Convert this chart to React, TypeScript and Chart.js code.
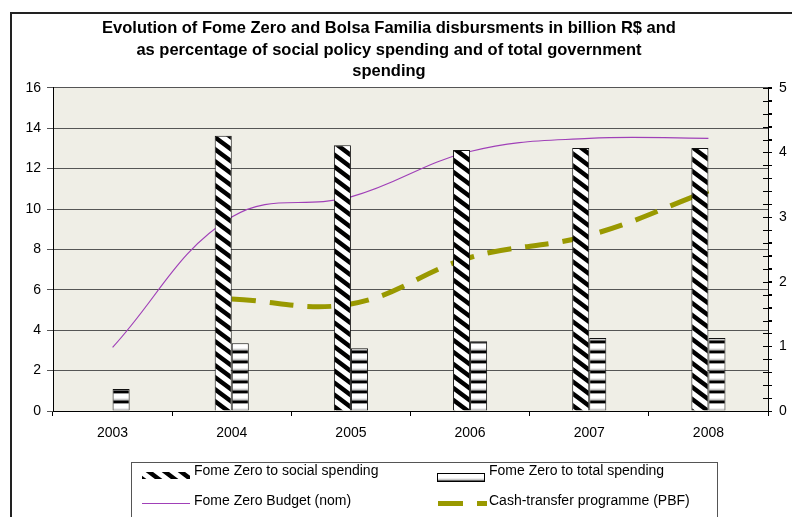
import { useEffect, useRef } from 'react';
import { Chart, registerables } from 'chart.js';

Chart.register(...registerables);

const titleLines = [
  'Evolution of Fome Zero and Bolsa Familia disbursments in billion R$ and',
  'as percentage of social policy spending and of total government',
  'spending',
];
const categories = ['2003', '2004', '2005', '2006', '2007', '2008'];
// % shares (right axis)
const socialShare = [null, 4.26, 4.11, 4.04, 4.07, 4.07];
const totalShare = [0.34, 1.05, 0.97, 1.08, 1.13, 1.13];
// billion R$ (left axis)
const budgetNom = [3.15, 9.6, 10.6, 12.85, 13.5, 13.5];
const pbf = [null, 5.55, 5.3, 7.6, 8.7, 10.9];
const leftTickValues = [0, 2, 4, 6, 8, 10, 12, 14, 16];
const rightTickValues = [0, 1, 2, 3, 4, 5];
const rightMinorPerUnit = 5;

const FONT = '"Liberation Sans", Arial, sans-serif';

function diagPattern(): CanvasPattern | string {
  const W = 16, H = 12;
  const c = document.createElement('canvas');
  c.width = W; c.height = H;
  const g = c.getContext('2d');
  if (!g) return '#888';
  g.fillStyle = '#fff';
  g.fillRect(0, 0, W, H);
  g.strokeStyle = '#000';
  g.lineWidth = 4.5;
  g.beginPath();
  for (let k = -3; k <= 3; k++) {
    g.moveTo(-W, -H + k * H);
    g.lineTo(2 * W, 2 * H + k * H);
  }
  g.stroke();
  return g.createPattern(c, 'repeat') || '#888';
}

function horizPattern(): CanvasPattern | string {
  const c = document.createElement('canvas');
  c.width = 4; c.height = 10;
  const g = c.getContext('2d');
  if (!g) return '#888';
  const rows = ['#666', '#000', '#000', '#999', '#fff', '#fff', '#fff', '#fff', '#eee', '#ccc'];
  rows.forEach((col, i) => { g.fillStyle = col; g.fillRect(0, i, 4, 1); });
  return g.createPattern(c, 'repeat') || '#888';
}

export default function App() {
  const ref = useRef<HTMLCanvasElement | null>(null);

  useEffect(() => {
    const canvas = ref.current;
    if (!canvas) return;
    const diag = diagPattern();
    const horiz = horizPattern();

    const decor = {
      id: 'decor',
      beforeDraw(chart: any) {
        const { ctx, chartArea } = chart;
        ctx.save();
        ctx.fillStyle = '#ffffff';
        ctx.fillRect(0, 0, chart.width, chart.height);
        ctx.fillStyle = '#EFEEE6';
        ctx.fillRect(chartArea.left, chartArea.top, chartArea.right - chartArea.left, chartArea.bottom - chartArea.top);
        // outer frame
        ctx.strokeStyle = '#222';
        ctx.lineWidth = 2;
        ctx.beginPath();
        ctx.moveTo(11, chart.height + 5);
        ctx.lineTo(11, 13);
        ctx.lineTo(chart.width + 5, 13);
        ctx.stroke();
        ctx.restore();
      },
      afterDraw(chart: any) {
        const { ctx, chartArea } = chart;
        const y1 = chart.scales.y1;
        ctx.save();
        // crossing minor ticks on right axis
        ctx.strokeStyle = '#000';
        ctx.lineWidth = 1;
        const maxV = rightTickValues[rightTickValues.length - 1];
        for (let i = 0; i <= maxV * rightMinorPerUnit; i++) {
          const py = Math.round(y1.getPixelForValue(i / rightMinorPerUnit)) + 0.5;
          ctx.beginPath();
          ctx.moveTo(chartArea.right - 5, py);
          ctx.lineTo(chartArea.right + 4, py);
          ctx.stroke();
        }
        // legend
        const ds = chart.data.datasets;
        ctx.strokeStyle = '#555';
        ctx.lineWidth = 1;
        ctx.strokeRect(131.5, 462.5, 586, 80);
        ctx.font = `14px ${FONT}`;
        ctx.textBaseline = 'middle';
        ctx.textAlign = 'left';
        // row 1
        ctx.fillStyle = diag;
        ctx.fillRect(142, 472, 48, 7);
        ctx.fillStyle = horiz;
        ctx.fillRect(437, 473, 48, 9);
        ctx.strokeStyle = '#000';
        ctx.strokeRect(437.5, 473.5, 47, 8);
        ctx.fillStyle = '#000';
        ctx.fillText(ds[0].label, 194, 471);
        ctx.fillText(ds[1].label, 489, 471);
        // row 2
        ctx.strokeStyle = ds[2].borderColor;
        ctx.lineWidth = 1.2;
        ctx.beginPath();
        ctx.moveTo(142, 503.5);
        ctx.lineTo(190, 503.5);
        ctx.stroke();
        ctx.fillStyle = ds[3].borderColor;
        ctx.fillRect(438, 501, 25, 5);
        ctx.fillRect(477, 501, 10, 5);
        ctx.fillStyle = '#000';
        ctx.fillText(ds[2].label, 194, 501);
        ctx.fillText(ds[3].label, 489, 501);
        ctx.restore();
      },
    };

    const tickFont = { family: FONT, size: 14 };

    const chart = new Chart(canvas, {
      type: 'bar',
      data: {
        labels: categories,
        datasets: [
          {
            type: 'bar',
            label: 'Fome Zero to social spending',
            data: socialShare as any,
            yAxisID: 'y1',
            backgroundColor: diag as any,
            borderColor: '#111',
            borderWidth: 1,
            categoryPercentage: 0.286,
            barPercentage: 1,
            order: 0,
          },
          {
            type: 'bar',
            label: 'Fome Zero to total spending',
            data: totalShare as any,
            yAxisID: 'y1',
            backgroundColor: horiz as any,
            borderColor: '#111',
            borderWidth: 1,
            categoryPercentage: 0.286,
            barPercentage: 1,
            order: 0,
          },
          {
            type: 'line',
            label: 'Fome Zero Budget (nom)',
            data: budgetNom as any,
            yAxisID: 'y',
            borderColor: '#A040B8',
            borderWidth: 1.2,
            pointRadius: 0,
            tension: 0.4,
            fill: false,
            order: 1,
          },
          {
            type: 'line',
            label: 'Cash-transfer programme (PBF)',
            data: pbf as any,
            yAxisID: 'y',
            borderColor: '#999900',
            borderWidth: 5,
            borderDash: [24, 14],
            pointRadius: 0,
            tension: 0.4,
            fill: false,
            order: 1,
          },
        ],
      },
      options: {
        animation: false,
        responsive: false,
        maintainAspectRatio: false,
        layout: { padding: { left: -14, right: 0, top: 0, bottom: 0 } },
        plugins: {
          legend: { display: false },
          tooltip: { enabled: false },
          title: {
            display: true,
            text: titleLines,
            color: '#000',
            font: { family: FONT, size: 16.5, weight: 'bold', lineHeight: 1.3 },
            padding: { top: 18, bottom: 5.5 },
          },
        },
        scales: {
          x: {
            offset: true,
            grid: { drawOnChartArea: false, offset: true, tickLength: 5, color: '#000' },
            border: { color: '#000' },
            ticks: { color: '#000', font: tickFont, padding: 9, maxRotation: 0 },
            afterFit: (s: any) => { s.height = 106; },
          },
          y: {
            position: 'left',
            min: 0,
            max: 16,
            afterBuildTicks: (s: any) => { s.ticks = leftTickValues.map((v) => ({ value: v })); },
            grid: { color: '#555', tickLength: 6 },
            border: { color: '#000' },
            ticks: { color: '#000', font: tickFont, padding: 6 },
            afterFit: (s: any) => { s.width = 67; },
          },
          y1: {
            position: 'right',
            min: 0,
            max: 5,
            afterBuildTicks: (s: any) => {
              const maxV = rightTickValues[rightTickValues.length - 1];
              const t = [];
              for (let i = 0; i <= maxV * rightMinorPerUnit; i++) t.push({ value: i / rightMinorPerUnit });
              s.ticks = t;
            },
            grid: { drawOnChartArea: false, tickLength: 4, color: '#000' },
            border: { color: '#000' },
            ticks: {
              color: '#000',
              font: tickFont,
              padding: 7,
              autoSkip: false,
              callback: (v: any) => {
                const r = Math.round(v);
                return Math.abs(v - r) < 1e-9 && rightTickValues.includes(r) ? String(r) : '';
              },
            },
            afterFit: (s: any) => { s.width = 24; },
          },
        },
      },
      plugins: [decor],
    });

    return () => chart.destroy();
  }, []);

  return (
    <div style={{ position: 'absolute', left: 0, top: 0, width: 792, height: 517 }}>
      <canvas ref={ref} width={792} height={517} style={{ display: 'block', width: 792, height: 517 }} />
    </div>
  );
}
